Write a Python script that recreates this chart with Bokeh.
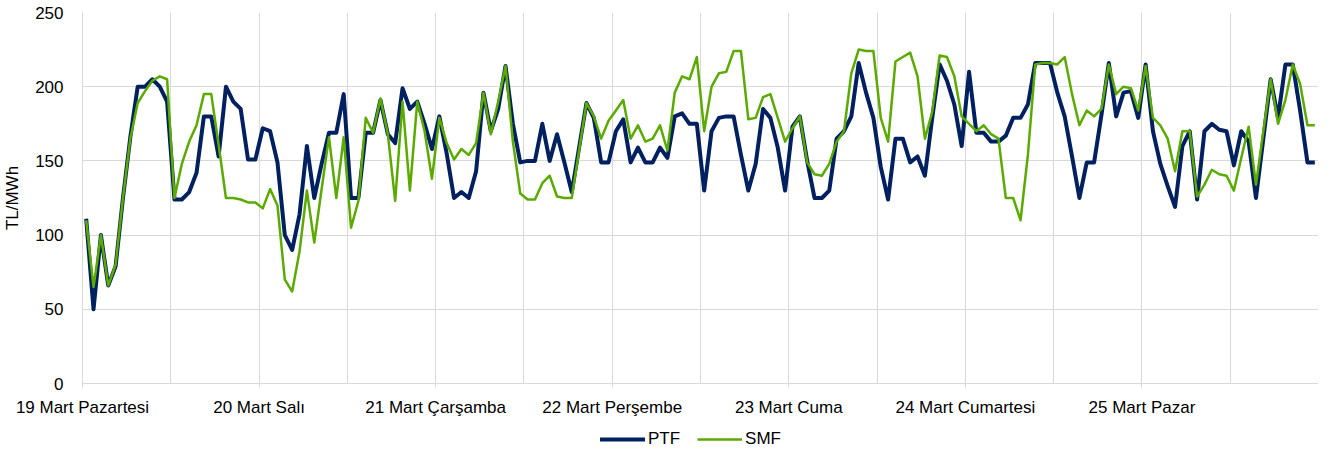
from bokeh.plotting import figure
from bokeh.layouts import column
from bokeh.models import FixedTicker, Legend, LegendItem, Range1d
from bokeh.embed import file_html
from bokeh.resources import INLINE

day_labels = ["19 Mart Pazartesi", "20 Mart Salı", "21 Mart Çarşamba", "22 Mart Perşembe",
              "23 Mart Cuma", "24 Mart Cumartesi", "25 Mart Pazar"]
y_ticks = [0, 50, 100, 150, 200, 250]
series_names = ["PTF", "SMF"]

ptf = [
    111, 50, 100, 66, 79, 125, 166, 200, 200, 205, 200, 190, 124, 124, 129, 142, 180, 180, 153, 200, 190, 185, 151, 151,
    172, 170, 149, 100, 90, 114, 160, 125, 148, 169, 169, 195, 125, 125, 169, 169, 191, 168, 162, 199, 185, 190, 175, 158,
    180, 155, 125, 129, 125, 143, 196, 170, 185, 214, 175, 149, 150, 150, 175, 150, 168, 149, 129, 159, 189, 179, 149, 149,
    170, 178, 149, 159, 149, 149, 159, 152, 180, 182, 175, 175, 130, 170, 179, 180, 180, 154, 130, 148, 185, 179, 159, 130,
    173, 180, 150, 125, 125, 130, 165, 170, 180, 216, 196, 179, 146, 124, 165, 165, 149, 153, 140, 179, 215, 204, 188, 160,
    210, 169, 169, 163, 163, 167, 179, 179, 188, 216, 216, 216, 196, 180, 153, 125, 149, 149, 181, 216, 180, 196, 197, 179,
    215, 170, 148, 133, 119, 160, 170, 124, 170, 175, 171, 170, 147, 170, 163, 125, 165, 205, 179, 215, 215, 184, 149, 149,
]
smf = [
    110, 65, 100, 66, 80, 125, 165, 189, 197, 204, 207, 205, 125, 148, 163, 174, 195, 195, 161, 125, 125, 124, 122, 122,
    118, 131, 120, 70, 62, 89, 130, 95, 131, 166, 125, 166, 105, 123, 179, 169, 192, 168, 123, 190, 130, 190, 170, 138,
    179, 162, 151, 158, 154, 162, 196, 168, 190, 214, 163, 128, 124, 124, 135, 140, 126, 125, 125, 157, 189, 180, 165, 177,
    184, 191, 165, 174, 163, 165, 174, 157, 196, 207, 205, 220, 170, 200, 209, 210, 224, 224, 178, 179, 193, 195, 179, 163,
    172, 180, 149, 141, 140, 148, 163, 170, 209, 225, 224, 224, 179, 163, 217, 220, 223, 207, 165, 183, 221, 220, 207, 180,
    175, 170, 174, 168, 165, 125, 125, 110, 154, 215, 216, 216, 215, 220, 195, 174, 184, 180, 185, 215, 195, 200, 199, 184,
    214, 179, 174, 165, 143, 170, 170, 126, 134, 144, 141, 140, 130, 152, 173, 134, 170, 205, 175, 191, 215, 202, 174, 174,
]

hours = [i + 0.5 for i in range(len(ptf))]
n_hours = len(ptf)
FONT = "Liberation Sans"
GRID = "#d9d9d9"
PTF_COLOR = "#002060"
SMF_COLOR = "#5AAA00"

p = figure(width=1318, height=420, output_backend="svg", toolbar_location=None,
           x_range=Range1d(0, n_hours), y_range=Range1d(0, 250),
           min_border_left=74, min_border_right=0, min_border_top=12, min_border_bottom=37)
p.outline_line_color = None
p.background_fill_color = "white"

p.line(hours, ptf, line_color=PTF_COLOR, line_width=4, line_join="round")
p.line(hours, smf, line_color=SMF_COLOR, line_width=2.5, line_join="round")

day_ticks = [24 * k for k in range(len(day_labels))]
p.xaxis.ticker = FixedTicker(ticks=day_ticks)
p.xaxis.major_label_overrides = {t: lab for t, lab in zip(day_ticks, day_labels)}
p.xaxis.axis_line_color = GRID
p.xaxis.major_tick_line_color = GRID
p.xaxis.major_tick_out = 4
p.xaxis.major_tick_in = 0
p.xaxis.minor_tick_line_color = None
p.xaxis.major_label_standoff = 10
p.xaxis.major_label_text_font = FONT
p.xaxis.major_label_text_font_size = "17px"
p.xaxis.major_label_text_color = "black"

p.yaxis.ticker = FixedTicker(ticks=y_ticks)
p.yaxis.axis_line_color = GRID
p.yaxis.major_tick_line_color = None
p.yaxis.minor_tick_line_color = None
p.yaxis.major_tick_out = 0
p.yaxis.major_tick_in = 0
p.yaxis.major_label_standoff = 19
p.yaxis.major_label_text_font = FONT
p.yaxis.major_label_text_font_size = "17px"
p.yaxis.major_label_text_color = "black"
p.yaxis.axis_label = "TL/MWh"
p.yaxis.axis_label_text_font = FONT
p.yaxis.axis_label_text_font_size = "17px"
p.yaxis.axis_label_text_font_style = "normal"
p.yaxis.axis_label_text_color = "black"
p.yaxis.axis_label_standoff = 10

p.xgrid.ticker = FixedTicker(ticks=list(range(0, n_hours + 1, 12)))
p.xgrid.grid_line_color = GRID
p.ygrid.ticker = FixedTicker(ticks=y_ticks)
p.ygrid.grid_line_color = GRID

# legend strip below the chart (series drawn out of view, only legend shows)
lf = figure(width=1318, height=29, output_backend="svg", toolbar_location=None,
            x_axis_type=None, y_axis_type=None, x_range=Range1d(0, n_hours), y_range=Range1d(1000, 1001),
            min_border=0)
lf.outline_line_color = None
lf.xgrid.visible = False
lf.ygrid.visible = False
lr1 = lf.line(hours, ptf, line_color=PTF_COLOR, line_width=4, line_cap="round")
lr2 = lf.line(hours, smf, line_color=SMF_COLOR, line_width=2.5)
legend = Legend(items=[LegendItem(label=series_names[0], renderers=[lr1]),
                       LegendItem(label=series_names[1], renderers=[lr2])],
                orientation="horizontal", location=(518, 0),
                glyph_width=45, glyph_height=16, label_height=16, label_standoff=3, spacing=17,
                padding=0, margin=0, border_line_color=None, background_fill_alpha=0,
                label_text_font=FONT, label_text_font_size="17px", label_text_color="black")
lf.add_layout(legend)

layout = column(p, lf, spacing=0)
open("out.html", "w").write(file_html(layout, INLINE))
